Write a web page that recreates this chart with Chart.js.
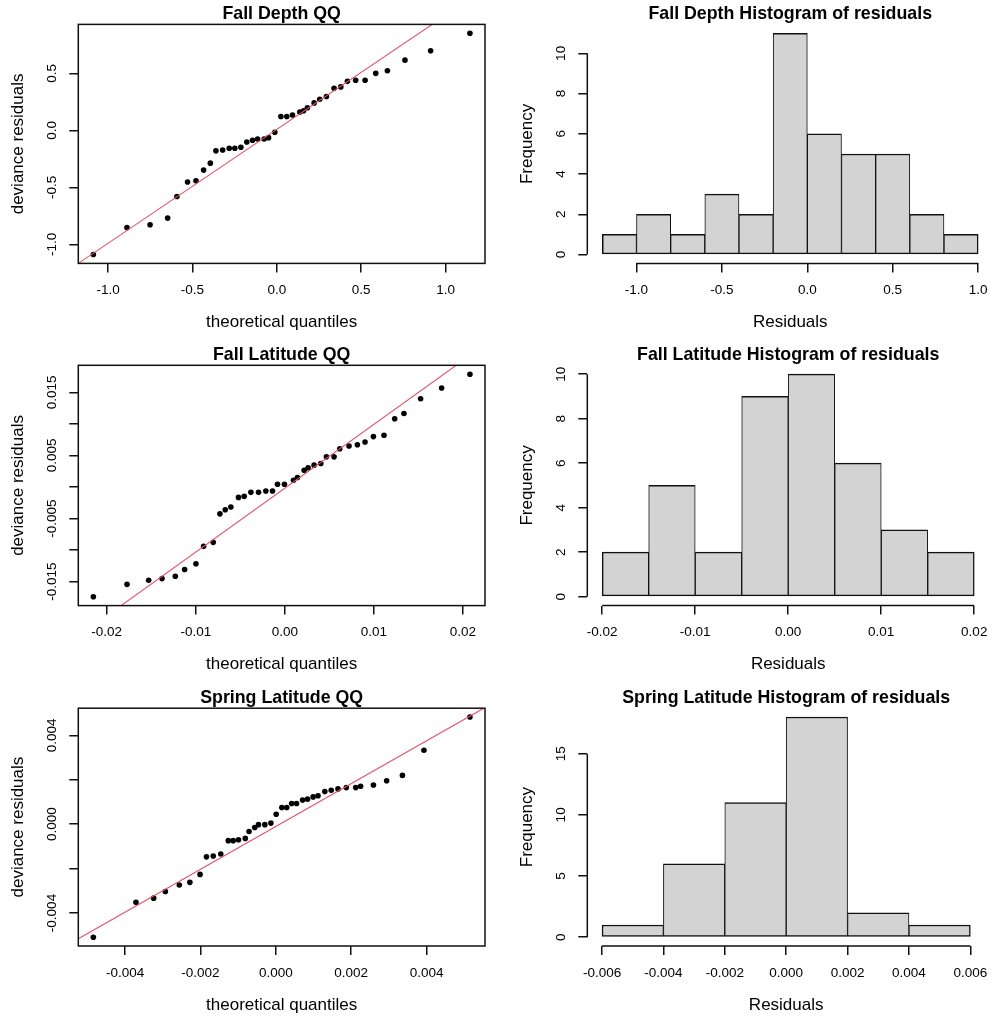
<!DOCTYPE html>
<html>
<head>
<meta charset="utf-8">
<script src="https://cdn.jsdelivr.net/npm/chart.js@4.4.1/dist/chart.umd.min.js"></script>
<style>
html,body{margin:0;background:#fff;}
#wrap{position:relative;width:999px;height:1020px;overflow:hidden;}
#wrap canvas{position:absolute;}
</style>
</head>
<body>
<div id="wrap">
  <canvas id="qqDepth" width="500" height="340" style="left:0;top:0"></canvas>
  <canvas id="histDepth" width="499" height="340" style="left:500px;top:0"></canvas>
  <canvas id="qqFallLat" width="500" height="340" style="left:0;top:340px"></canvas>
  <canvas id="histFallLat" width="499" height="340" style="left:500px;top:340px"></canvas>
  <canvas id="qqSpringLat" width="500" height="340" style="left:0;top:680px"></canvas>
  <canvas id="histSpringLat" width="499" height="340" style="left:500px;top:680px"></canvas>
</div>
<script>
// ---- data ----
// Fall depth
const depthTheo=[-1.087,-0.888,-0.751,-0.647,-0.592,-0.529,-0.479,-0.434,-0.394,-0.361,-0.321,-0.282,-0.249,-0.213,-0.178,-0.144,-0.114,-0.075,-0.049,-0.012,0.024,0.059,0.093,0.136,0.158,0.181,0.221,0.254,0.294,0.339,0.379,0.418,0.467,0.523,0.586,0.655,0.759,0.911,1.144];
const depthResid=[-1.090,-0.852,-0.828,-0.770,-0.581,-0.453,-0.442,-0.349,-0.288,-0.180,-0.172,-0.157,-0.157,-0.148,-0.102,-0.087,-0.076,-0.076,-0.064,-0.017,0.122,0.122,0.134,0.160,0.172,0.198,0.241,0.273,0.297,0.369,0.381,0.430,0.439,0.439,0.500,0.523,0.616,0.698,0.852];
const depthLine=[0.009,1.0]; // intercept, slope
const depthBreaks=[-1.2,-1.0,-0.8,-0.6,-0.4,-0.2,0,0.2,0.4,0.6,0.8,1.0];
const depthCounts=[1,2,1,3,2,11,6,5,5,2,1];
const depthQTicks=[-1,-0.5,0,0.5,1], depthQLabels=['-1.0','-0.5','0.0','0.5','1.0'];
const depthRTicks=[-1,-0.5,0,0.5], depthRLabels=['-1.0','-0.5','0.0','0.5'];
const depthHTicks=[-1,-0.5,0,0.5,1], depthHLabels=['-1.0','-0.5','0.0','0.5','1.0'];
const depthFTicks=[0,2,4,6,8,10], depthFLabels=['0','2','4','6','8','10'];

// Fall latitude
const fallTheo=[-0.02150,-0.01772,-0.01529,-0.01379,-0.01230,-0.01125,-0.00998,-0.00912,-0.00804,-0.00729,-0.00669,-0.00606,-0.00520,-0.00456,-0.00381,-0.00295,-0.00213,-0.00138,-0.00082,-0.00004,0.00097,0.00142,0.00217,0.00262,0.00329,0.00404,0.00467,0.00553,0.00617,0.00721,0.00815,0.00901,0.00995,0.01114,0.01234,0.01338,0.01525,0.01761,0.02079];
const fallResid=[-0.01739,-0.01543,-0.01479,-0.01452,-0.01415,-0.01309,-0.01218,-0.00941,-0.00878,-0.00426,-0.00362,-0.00319,-0.00165,-0.00149,-0.00085,-0.00085,-0.00064,-0.00064,0.00043,0.00043,0.00106,0.00149,0.00266,0.00303,0.00346,0.00372,0.00477,0.00477,0.00606,0.00649,0.00670,0.00713,0.00798,0.00819,0.01080,0.01165,0.01399,0.01569,0.01787];
const fallLine=[-0.0002,1.012];
const fallBreaks=[-0.02,-0.015,-0.01,-0.005,0,0.005,0.01,0.015,0.02];
const fallCounts=[2,5,2,9,10,6,3,2];
const fallQTicks=[-0.02,-0.01,0,0.01,0.02], fallQLabels=['-0.02','-0.01','0.00','0.01','0.02'];
const fallRTicks=[-0.015,-0.01,-0.005,0,0.005,0.01,0.015], fallRLabels=['-0.015','','-0.005','','0.005','','0.015'];
const fallHTicks=[-0.02,-0.01,0,0.01,0.02], fallHLabels=['-0.02','-0.01','0.00','0.01','0.02'];
const fallFTicks=[0,2,4,6,8,10], fallFLabels=['0','2','4','6','8','10'];

// Spring latitude
const springTheo=[-0.00484,-0.00371,-0.00324,-0.00293,-0.00256,-0.00228,-0.00201,-0.00184,-0.00166,-0.00146,-0.00126,-0.00113,-0.00099,-0.00081,-0.00071,-0.00056,-0.00046,-0.00029,-0.00013,0.00001,0.00016,0.00029,0.00042,0.00055,0.00071,0.00084,0.00099,0.00112,0.00130,0.00147,0.00165,0.00187,0.00212,0.00225,0.00259,0.00294,0.00336,0.00393,0.00515];
const springResid=[-0.00509,-0.00352,-0.00333,-0.00303,-0.00274,-0.00262,-0.00226,-0.00147,-0.00143,-0.00134,-0.00074,-0.00074,-0.00070,-0.00064,-0.00033,-0.00015,-0.00002,-0.00002,0.00005,0.00045,0.00075,0.00075,0.00093,0.00093,0.00109,0.00113,0.00123,0.00128,0.00147,0.00153,0.00159,0.00165,0.00165,0.00171,0.00177,0.00196,0.00220,0.00333,0.00483];
const springLine=[-0.0001,0.965];
const springBreaks=[-0.006,-0.004,-0.002,0,0.002,0.004,0.006];
const springCounts=[1,6,11,18,2,1];
const springQTicks=[-0.004,-0.002,0,0.002,0.004], springQLabels=['-0.004','-0.002','0.000','0.002','0.004'];
const springRTicks=[-0.004,-0.002,0,0.002,0.004], springRLabels=['-0.004','','0.000','','0.004'];
const springHTicks=[-0.006,-0.004,-0.002,0,0.002,0.004,0.006], springHLabels=['-0.006','-0.004','-0.002','0.000','0.002','0.004','0.006'];
const springFTicks=[0,5,10,15], springFLabels=['0','5','10','15'];

// ---- look ----
const FAMILY='"Liberation Sans", Arial, Helvetica, sans-serif';
Chart.defaults.font.family=FAMILY;
Chart.defaults.color='#000';
const TICK=13.5, LAB=17, MAIN=17.8, TL=9, INK='#111', LW=1.5, H=340;

const mctx=document.createElement('canvas').getContext('2d');
function widest(labels){
  mctx.font=TICK+'px '+FAMILY;
  return Math.max(...labels.map(l=>mctx.measureText(l).width));
}
function pad4(vals){
  const lo=Math.min(...vals), hi=Math.max(...vals), d=(hi-lo)*0.04;
  return [lo-d,hi+d];
}

// R-like plot box for the QQ panels
const frame={id:'frame',afterDraw(c){
  const a=c.chartArea, g=c.ctx;
  g.save(); g.strokeStyle=INK; g.lineWidth=LW;
  g.strokeRect(a.left,a.top,a.right-a.left,a.bottom-a.top);
  g.restore();
}};
// R-like detached axes (first tick to last tick) for the histograms
const rAxes={id:'rAxes',afterDraw(c){
  const sx=c.scales.x, sy=c.scales.y, a=c.chartArea, g=c.ctx;
  const xt=sx.ticks, yt=sy.ticks;
  g.save(); g.strokeStyle=INK; g.lineWidth=LW; g.beginPath();
  g.moveTo(sx.getPixelForValue(xt[0].value),a.bottom);
  g.lineTo(sx.getPixelForValue(xt[xt.length-1].value),a.bottom);
  g.moveTo(a.left,sy.getPixelForValue(yt[0].value));
  g.lineTo(a.left,sy.getPixelForValue(yt[yt.length-1].value));
  g.stroke(); g.restore();
}};

function axisX(p){
  return {type:'linear',min:p.xMin,max:p.xMax,bounds:'data',offset:false,
    afterBuildTicks:s=>{s.ticks=p.xTicks.map(v=>({value:v}));},
    afterFit:s=>{s.height=H-p.bottom;},
    ticks:{autoSkip:false,minRotation:0,maxRotation:0,padding:27-TL-TICK/2,
      font:{size:TICK,lineHeight:1},color:'#000',callback:(v,i)=>p.xLabels[i]},
    grid:{drawOnChartArea:false,drawTicks:true,tickLength:TL,color:INK,lineWidth:LW,offset:false},
    border:{display:false},
    title:{display:true,text:p.xTitle,color:'#000',font:{size:LAB,lineHeight:1},
      padding:{top:0,bottom:H-(p.bottom+59)-LAB/2}}
  };
}
function axisY(p){
  const wid=widest(p.yLabels);
  return {type:'linear',min:p.yMin,max:p.yMax,bounds:'data',
    afterBuildTicks:s=>{s.ticks=p.yTicks.map(v=>({value:v}));},
    afterFit:s=>{s.width=p.left;},
    ticks:{autoSkip:false,minRotation:90,maxRotation:90,crossAlign:'center',padding:26.5-TL-wid/2,
      font:{size:TICK,lineHeight:1},color:'#000',callback:(v,i)=>p.yLabels[i]},
    grid:{drawOnChartArea:false,drawTicks:true,tickLength:TL,color:INK,lineWidth:LW},
    border:{display:false},
    title:{display:true,text:p.yTitle,color:'#000',font:{size:LAB,lineHeight:1},
      padding:{top:p.left-60-LAB/2,bottom:0}}
  };
}
function common(p){
  return {responsive:false,animation:false,events:[],devicePixelRatio:1,
    layout:{padding:{left:0,top:0,bottom:0,right:p.w-p.right}},
    plugins:{legend:{display:false},tooltip:{enabled:false},
      title:{display:true,text:p.main,fullSize:false,color:'#000',
        font:{size:MAIN,weight:'bold',lineHeight:1},
        padding:{top:p.top-10-MAIN/2,bottom:10-MAIN/2}}},
    scales:{x:axisX(p),y:axisY(p)}
  };
}

function qqChart(id,p){
  const [x0,x1]=pad4(p.q), [y0,y1]=pad4(p.r);
  Object.assign(p,{xMin:x0,xMax:x1,yMin:y0,yMax:y1,left:78.3,right:485,w:500,
    xTitle:'theoretical quantiles',yTitle:'deviance residuals'});
  const [b0,b1]=p.line;
  new Chart(document.getElementById(id),{
    type:'scatter',
    data:{datasets:[
      {type:'line',data:[{x:x0,y:b0+b1*x0},{x:x1,y:b0+b1*x1}],borderColor:'#DF536B',
        borderWidth:1.1,pointRadius:0,fill:false,clip:0},
      {data:p.q.map((v,i)=>({x:v,y:p.r[i]})),backgroundColor:'#000',borderWidth:0,
        pointRadius:2.8,clip:false}
    ]},
    options:common(p),
    plugins:[frame]
  });
}

function histChart(id,p){
  const lo=p.br[0], hi=p.br[p.br.length-1], d=(hi-lo)*0.04, top=Math.max(...p.n);
  Object.assign(p,{xMin:lo-d,xMax:hi+d,yMin:-0.04*top,yMax:1.04*top,left:87.3,right:494,w:499,
    xTitle:'Residuals',yTitle:'Frequency'});
  const last=p.n.length-1;
  new Chart(document.getElementById(id),{
    type:'bar',
    data:{datasets:[{
      data:p.n.map((v,i)=>({x:(p.br[i]+p.br[i+1])/2,y:v})),
      backgroundColor:'#D3D3D3',borderColor:INK,borderSkipped:false,
      borderWidth:c=>({top:LW,bottom:LW,left:c.dataIndex===0?LW:1,right:c.dataIndex===last?LW:1}),
      barPercentage:1,categoryPercentage:1,grouped:false
    }]},
    options:common(p),
    plugins:[rAxes]
  });
}

qqChart('qqDepth',{main:'Fall Depth QQ',top:24.4,bottom:263.4,q:depthTheo,r:depthResid,line:depthLine,
  xTicks:depthQTicks,xLabels:depthQLabels,yTicks:depthRTicks,yLabels:depthRLabels});
histChart('histDepth',{main:'Fall Depth Histogram of residuals',top:24.4,bottom:263.4,br:depthBreaks,n:depthCounts,
  xTicks:depthHTicks,xLabels:depthHLabels,yTicks:depthFTicks,yLabels:depthFLabels});
qqChart('qqFallLat',{main:'Fall Latitude QQ',top:25.3,bottom:265.6,q:fallTheo,r:fallResid,line:fallLine,
  xTicks:fallQTicks,xLabels:fallQLabels,yTicks:fallRTicks,yLabels:fallRLabels});
histChart('histFallLat',{main:'Fall Latitude Histogram of residuals',top:25.3,bottom:265.6,br:fallBreaks,n:fallCounts,
  xTicks:fallHTicks,xLabels:fallHLabels,yTicks:fallFTicks,yLabels:fallFLabels});
qqChart('qqSpringLat',{main:'Spring Latitude QQ',top:28.2,bottom:266,q:springTheo,r:springResid,line:springLine,
  xTicks:springQTicks,xLabels:springQLabels,yTicks:springRTicks,yLabels:springRLabels});
histChart('histSpringLat',{main:'Spring Latitude Histogram of residuals',top:28.2,bottom:266,br:springBreaks,n:springCounts,
  xTicks:springHTicks,xLabels:springHLabels,yTicks:springFTicks,yLabels:springFLabels});
</script>
</body>
</html>
